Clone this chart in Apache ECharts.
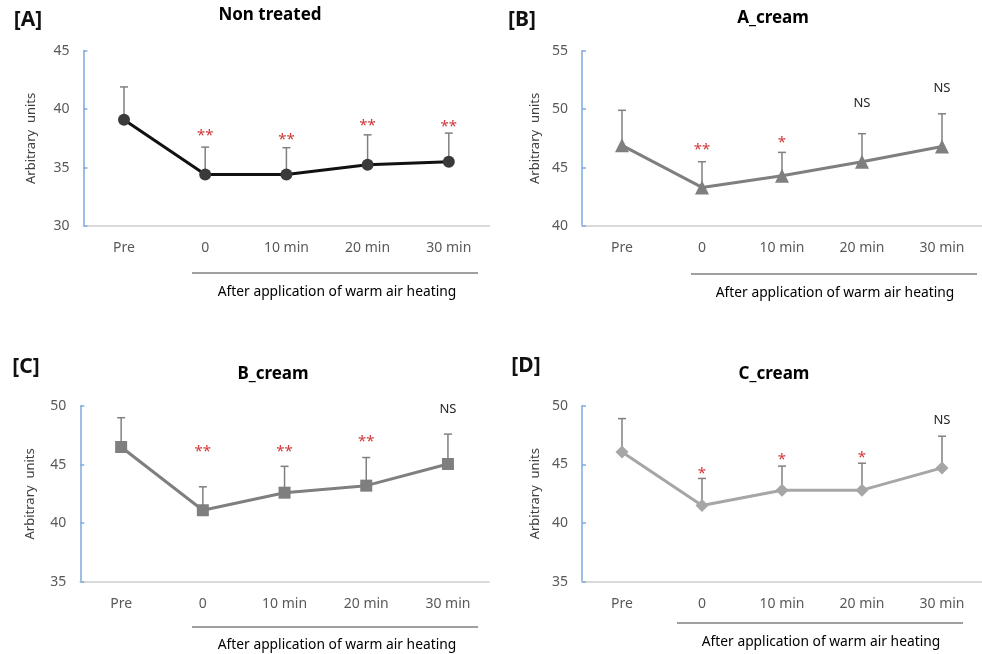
<!DOCTYPE html>
<html>
<head>
<meta charset="utf-8">
<script src="https://cdn.jsdelivr.net/npm/echarts@6/dist/echarts.min.js"></script>
<style>html,body{margin:0;padding:0;background:#fff}#c{width:982px;height:654px}</style>
</head>
<body>
<div id="c"></div>
<script>
// ---- data ----
var categories = ['Pre', '0', '10 min', '20 min', '30 min'];

var nonTreatedMean = [39.1, 34.4, 34.4, 35.25, 35.5];
var nonTreatedTop  = [41.9, 36.75, 36.7, 37.8, 37.95];
var nonTreatedSig  = ['', '**', '**', '**', '**'];
var nonTreatedSigAt = [null, 38.06, 37.72, 38.9, 38.8];

var aCreamMean = [46.9, 43.3, 44.3, 45.5, 46.8];
var aCreamTop  = [49.9, 45.5, 46.3, 47.9, 49.6];
var aCreamSig  = ['', '**', '*', 'NS', 'NS'];
var aCreamSigAt = [null, 46.83, 47.5, 50.52, 51.8];

var bCreamMean = [46.5, 41.1, 42.6, 43.2, 45.05];
var bCreamTop  = [49.0, 43.1, 44.85, 45.6, 47.6];
var bCreamSig  = ['', '**', '**', '**', 'NS'];
var bCreamSigAt = [null, 46.44, 46.44, 47.29, 49.74];

var cCreamMean = [46.05, 41.5, 42.8, 42.8, 44.7];
var cCreamTop  = [48.9, 43.8, 44.85, 45.1, 47.4];
var cCreamSig  = ['', '*', '*', '*', 'NS'];
var cCreamSigAt = [null, 44.58, 45.74, 45.88, 48.78];

var yTicksA = [30, 35, 40, 45];
var yTicksB = [40, 45, 50, 55];
var yTicksC = [35, 40, 45, 50];
var yTicksD = [35, 40, 45, 50];

var panelTitles = ['Non treated', 'A_cream', 'B_cream', 'C_cream'];
var panelLetters = ['[A]', '[B]', '[C]', '[D]'];
var footnote = 'After application of warm air heating';
var yName = 'Arbitrary  units';

// ---- chart ----
var FONT = '"Noto Sans", "Liberation Sans", sans-serif';
var chart = echarts.init(document.getElementById('c'), null, {renderer: 'canvas'});

var panels = [
  {mean: nonTreatedMean, top: nonTreatedTop, sig: nonTreatedSig, sigAt: nonTreatedSigAt, ticks: yTicksA,
   grid: {left: 83.4, top: 50.7, width: 406, height: 175.3}, nameGap: 46,
   symbol: 'circle', symbolSize: 12, color: '#3a3a3a', lineColor: '#111111'},
  {mean: aCreamMean, top: aCreamTop, sig: aCreamSig, sigAt: aCreamSigAt, ticks: yTicksB,
   grid: {left: 582, top: 50.7, width: 409, height: 175.3}, nameGap: 40,
   symbol: 'triangle', symbolSize: 14, color: '#7f7f7f', lineColor: '#7f7f7f'},
  {mean: bCreamMean, top: bCreamTop, sig: bCreamSig, sigAt: bCreamSigAt, ticks: yTicksC,
   grid: {left: 80.3, top: 406, width: 408.5, height: 175.7}, nameGap: 44,
   symbol: 'rect', symbolSize: 12, color: '#7f7f7f', lineColor: '#7f7f7f'},
  {mean: cCreamMean, top: cCreamTop, sig: cCreamSig, sigAt: cCreamSigAt, ticks: yTicksD,
   grid: {left: 582, top: 405.7, width: 408.5, height: 176}, nameGap: 40,
   symbol: 'diamond', symbolSize: 13, color: '#a6a6a6', lineColor: '#a6a6a6'}
];

var grids = [], xAxes = [], yAxes = [], series = [];
panels.forEach(function (p, i) {
  grids.push(p.grid);
  xAxes.push({
    type: 'category', gridIndex: i, data: categories, boundaryGap: true,
    axisLine: {lineStyle: {color: '#d9d9d9', width: 2}},
    axisTick: {show: false},
    axisLabel: {color: '#595959', fontSize: 14, fontFamily: FONT, margin: 15},
    splitLine: {show: false}
  });
  var t = p.ticks;
  yAxes.push({
    type: 'value', gridIndex: i, min: t[0], max: t[t.length - 1], interval: t[1] - t[0],
    name: yName, nameLocation: 'middle', nameGap: p.nameGap,
    nameTextStyle: {color: '#404040', fontSize: 13, fontFamily: FONT},
    axisLine: {show: true, lineStyle: {color: '#7eaadc', width: 1.5}},
    axisTick: {show: true, inside: true, length: 4, lineStyle: {color: '#7eaadc', width: 1.5}},
    axisLabel: {color: '#595959', fontSize: 14, fontFamily: FONT, margin: 14},
    splitLine: {show: false}
  });
  // error bars + significance labels
  var ebData = p.mean.map(function (m, k) { return [k, m, p.top[k], p.sigAt[k] == null ? NaN : p.sigAt[k], k]; });
  series.push({
    type: 'custom', xAxisIndex: i, yAxisIndex: i, z: 1, silent: true,
    data: ebData,
    renderItem: function (params, api) {
      var k = api.value(4);
      var a = api.coord([api.value(0), api.value(1)]);
      var b = api.coord([api.value(0), api.value(2)]);
      var children = [
        {type: 'line', shape: {x1: a[0], y1: a[1], x2: b[0], y2: b[1]}, style: {stroke: '#808080', lineWidth: 1.5}},
        {type: 'line', shape: {x1: b[0] - 4, y1: b[1], x2: b[0] + 4, y2: b[1]}, style: {stroke: '#808080', lineWidth: 1.5}}
      ];
      var s = p.sig[k];
      if (s) {
        var c = api.coord([api.value(0), p.sigAt[k]]);
        var isNS = s === 'NS';
        children.push({
          type: 'text', x: c[0], y: c[1] + (isNS ? 0 : 4),
          style: {text: s, align: 'center', verticalAlign: 'middle',
                  fill: isNS ? '#262626' : '#d0383a',
                  font: (isNS ? '13px ' : '15px ') + FONT}
        });
      }
      return {type: 'group', children: children};
    }
  });
  series.push({
    type: 'line', xAxisIndex: i, yAxisIndex: i, z: 3, data: p.mean,
    symbol: p.symbol, symbolSize: p.symbolSize, showSymbol: true,
    lineStyle: {color: p.lineColor, width: 3},
    itemStyle: {color: p.color, borderWidth: 0},
    emphasis: {disabled: true}, animation: false
  });
});

var titles = [
  {text: panelTitles[0], left: 270, top: 15},
  {text: panelTitles[1], left: 773, top: 18},
  {text: panelTitles[2], left: 273, top: 374},
  {text: panelTitles[3], left: 774, top: 374}
].map(function (o) {
  return {text: o.text, left: o.left, top: o.top, textAlign: 'center', textVerticalAlign: 'middle', padding: 0,
          textStyle: {fontSize: 17, fontWeight: 'bold', color: '#000', fontFamily: FONT}};
});

function letter(txt, x, y) {
  return {type: 'text', x: x, y: y, style: {text: txt, align: 'center', verticalAlign: 'middle',
          font: 'bold 21px ' + FONT, fill: '#111'}};
}
function sep(x1, x2, y) {
  return {type: 'line', shape: {x1: x1, y1: y, x2: x2, y2: y}, style: {stroke: '#7f7f7f', lineWidth: 1.5}};
}
function foot(x, y) {
  return {type: 'text', x: x, y: y, style: {text: footnote, align: 'center', verticalAlign: 'middle',
          font: '13.8px ' + FONT, fill: '#000'}};
}

chart.setOption({
  animation: false,
  backgroundColor: '#fff',
  title: titles,
  grid: grids,
  xAxis: xAxes,
  yAxis: yAxes,
  series: series,
  graphic: [
    letter(panelLetters[0], 28, 20), letter(panelLetters[1], 522, 20),
    letter(panelLetters[2], 26, 367), letter(panelLetters[3], 526, 366),
    sep(192, 478, 273), sep(691, 977, 274), sep(192, 478, 627), sep(677, 963, 623),
    foot(337, 292), foot(835, 293), foot(337, 645), foot(821, 642)
  ]
});
</script>
</body>
</html>
